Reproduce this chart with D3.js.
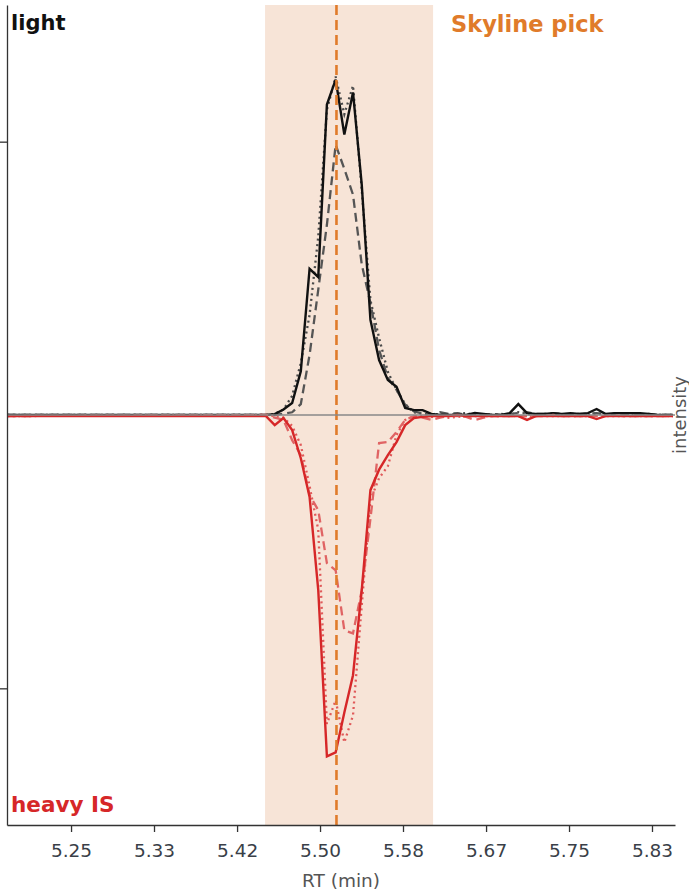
<!DOCTYPE html>
<html>
<head>
<meta charset="utf-8">
<script src="https://cdn.jsdelivr.net/npm/d3@7"></script>
<style>
  html, body { margin: 0; padding: 0; background: #fff; }
  svg { display: block; font-family: "DejaVu Sans", sans-serif; }
</style>
</head>
<body>
<div id="chart"></div>
<script>
// Retention times (min)
const rt = [5.186,
  5.4458, 5.4545, 5.4633, 5.4720, 5.4807, 5.4895, 5.4982, 5.5069, 5.5157, 5.5244,
  5.5331, 5.5419, 5.5506, 5.5593, 5.5681, 5.5768, 5.5855, 5.5943, 5.6030, 5.6117,
  5.6205, 5.6292, 5.6380, 5.6467, 5.6554, 5.6642, 5.6729, 5.6816, 5.6904, 5.6991,
  5.7078, 5.7166, 5.7253, 5.7340, 5.7428, 5.7515, 5.7603, 5.7690, 5.7777, 5.7865,
  5.7952, 5.8039, 5.8127, 5.8214, 5.8301, 5.8389, 5.8476,
  5.8544];

// light transitions (normalised intensity)
const lightSolid = [0,
  0, 0.003, 0.02, 0.044, 0.16, 0.535, 0.505, 1.136, 1.227, 1.026,
  1.18, 0.842, 0.348, 0.201, 0.128, 0.103, 0.026, 0.018, 0.018, 0.004,
  0, 0, 0, 0, 0.007, 0.004, 0, 0, 0.007, 0.04,
  0.007, 0.004, 0.004, 0.007, 0.004, 0.007, 0.004, 0.007, 0.022, 0.004,
  0.007, 0.007, 0.007, 0.007, 0.004, 0, 0,
  0];
const lightDashed = [0,
  0, 0, 0.005, 0.01, 0.04, 0.22, 0.458, 0.696, 0.989, 0.9,
  0.806, 0.55, 0.41, 0.238, 0.136, 0.092, 0.037, 0.013, 0.005, 0,
  0.01, 0.004, 0.007, 0, 0.004, 0, 0.004, 0, 0.004, 0.007,
  0.01, 0.004, 0.004, 0.007, 0.004, 0, 0.004, 0.004, 0.007, 0.004,
  0, 0.004, 0.004, 0, 0.004, 0, 0,
  0];
const lightDotted = [0,
  0, 0.004, 0.02, 0.07, 0.19, 0.366, 0.652, 1.117, 1.238, 1.1,
  1.205, 0.824, 0.42, 0.282, 0.158, 0.092, 0.04, 0.01, 0.004, 0,
  0.004, 0, 0.004, 0.007, 0, 0.004, 0, 0.004, 0, 0.01,
  0.004, 0, 0.004, 0.004, 0, 0.004, 0.004, 0, 0.007, 0,
  0.004, 0.004, 0, 0.004, 0, 0, 0,
  0];

// heavy IS transitions (mirrored, negative)
const heavySolid = [-0.004,
  -0.004, -0.037, -0.011, -0.055, -0.158, -0.30, -0.64, -1.249, -1.234, -1.088,
  -0.952, -0.64, -0.275, -0.2, -0.147, -0.099, -0.037, -0.011, -0.007, -0.004,
  -0.004, -0.004, 0, -0.004, -0.004, -0.004, -0.004, -0.004, -0.004, -0.004,
  -0.018, -0.004, -0.004, -0.004, -0.004, -0.004, -0.004, -0.004, -0.015, -0.004,
  -0.004, -0.004, -0.004, -0.004, -0.004, -0.004, -0.004,
  -0.004];
const heavyDashed = [-0.004,
  0, -0.01, -0.018, -0.092, -0.147, -0.293, -0.348, -0.542, -0.568, -0.788,
  -0.799, -0.641, -0.38, -0.103, -0.099, -0.062, -0.018, -0.004, -0.01, -0.018,
  -0.01, -0.004, -0.004, -0.007, -0.018, -0.01, -0.004, -0.004, -0.004, -0.004,
  -0.004, -0.004, -0.004, 0, -0.004, -0.004, -0.004, -0.004, -0.004, -0.004,
  0, -0.004, -0.004, -0.004, -0.004, -0.004, -0.004,
  -0.004];
const heavyDotted = [-0.004,
  0, -0.004, -0.01, -0.04, -0.11, -0.26, -0.42, -1.13, -1.044, -1.198,
  -1.099, -0.696, -0.311, -0.231, -0.187, -0.073, -0.018, -0.004, -0.004, -0.007,
  -0.004, -0.01, -0.007, -0.004, -0.004, -0.004, -0.004, -0.004, -0.004, -0.004,
  -0.004, -0.004, -0.004, -0.004, -0.004, -0.004, -0.004, -0.004, -0.004, -0.004,
  -0.004, -0.004, -0.004, -0.004, -0.004, -0.004, -0.004,
  -0.004];

// Skyline integration window and picked apex (min)
const pickWindow = [5.4448, 5.6135];
const pickApex = [5.5165];

// x ticks every 5 s
const xTicks = [5.25, 5.3333, 5.4167, 5.5, 5.5833, 5.6667, 5.75, 5.8333];
const yTicks = [-1, 1];
const xDomain = [5.1857, 5.8564];
const yDomain = [-1.5, 1.5];

const W = 689, H = 893;
const margin = {left: 7, top: 5, right: 14, bottom: 68};

const svg = d3.select("#chart").append("svg")
  .attr("width", W).attr("height", H);

const x = d3.scaleLinear().domain(xDomain).range([margin.left, W - margin.right]);
const y = d3.scaleLinear().domain(yDomain).range([H - margin.bottom, margin.top]);

// shaded pick window
svg.append("rect")
  .attr("x", x(pickWindow[0])).attr("y", margin.top)
  .attr("width", x(pickWindow[1]) - x(pickWindow[0]))
  .attr("height", y(yDomain[0]) - margin.top)
  .attr("fill", "#f7e4d7");

const line = d3.line().x(d => x(d[0])).y(d => y(d[1]));
const series = [
  {v: lightDotted, c: "#4a4a4a", w: 2.3, dash: "2,3.5"},
  {v: lightDashed, c: "#555555", w: 2.3, dash: "9,5"},
  {v: lightSolid,  c: "#111111", w: 2.4, dash: null},
  {v: heavyDotted, c: "#e05a5a", w: 2.3, dash: "2,3.5"},
  {v: heavyDashed, c: "#e06464", w: 2.3, dash: "9,5"},
  {v: heavySolid,  c: "#d62728", w: 2.4, dash: null}
];
series.forEach(s => {
  svg.append("path")
    .datum(rt.map((t, i) => [t, s.v[i]]))
    .attr("d", line)
    .attr("fill", "none")
    .attr("stroke", s.c)
    .attr("stroke-width", s.w)
    .attr("stroke-linejoin", "miter")
    .attr("stroke-dasharray", s.dash);
});

// picked apex
svg.selectAll(".apex").data(pickApex).enter().append("line")
  .attr("x1", d => x(d)).attr("x2", d => x(d))
  .attr("y1", margin.top).attr("y2", y(yDomain[0]))
  .attr("stroke", "#e07b2a").attr("stroke-width", 2.6)
  .attr("stroke-dasharray", "10,5");

// zero baseline
svg.append("line")
  .attr("x1", x(xDomain[0])).attr("x2", x(xDomain[1]))
  .attr("y1", y(0)).attr("y2", y(0))
  .attr("stroke", "#888").attr("stroke-width", 1.4);

// axes
const axisColor = "#333";
const gx = svg.append("g")
  .attr("transform", `translate(0,${y(yDomain[0])})`)
  .call(d3.axisBottom(x).tickValues(xTicks).tickFormat(d3.format(".2f"))
    .tickSize(7).tickSizeOuter(0).tickPadding(12));
gx.select(".domain").attr("stroke", axisColor).attr("stroke-width", 1.3);
gx.selectAll(".tick line").attr("stroke", axisColor).attr("stroke-width", 1.3);
gx.selectAll(".tick text").attr("fill", "#3a3f48").attr("font-size", 18.5)
  .attr("font-family", "DejaVu Sans, sans-serif");

const gy = svg.append("g")
  .attr("transform", `translate(${margin.left},0)`)
  .call(d3.axisLeft(y).tickValues(yTicks).tickFormat("").tickSize(7).tickSizeOuter(0));
gy.select(".domain").attr("stroke", axisColor).attr("stroke-width", 1.3);
gy.selectAll(".tick line").attr("stroke", axisColor).attr("stroke-width", 1.3);

// labels
svg.append("text").attr("x", (margin.left + W - margin.right) / 2).attr("y", 887)
  .attr("text-anchor", "middle").attr("font-size", 18.5).attr("fill", "#555")
  .text("RT (min)");
svg.append("text")
  .attr("transform", `translate(686,${y(0)}) rotate(-90)`)
  .attr("text-anchor", "middle").attr("font-size", 18).attr("fill", "#555")
  .text("intensity");

svg.append("text").attr("x", 11).attr("y", 30)
  .attr("font-size", 21).attr("font-weight", "bold").attr("fill", "#111")
  .text("light");
svg.append("text").attr("x", 11).attr("y", 812)
  .attr("font-size", 21.5).attr("font-weight", "bold").attr("fill", "#d62728")
  .text("heavy IS");
svg.append("text").attr("x", 451).attr("y", 32)
  .attr("font-size", 22.5).attr("font-weight", "bold").attr("fill", "#e07b2a")
  .text("Skyline pick");
</script>
</body>
</html>
